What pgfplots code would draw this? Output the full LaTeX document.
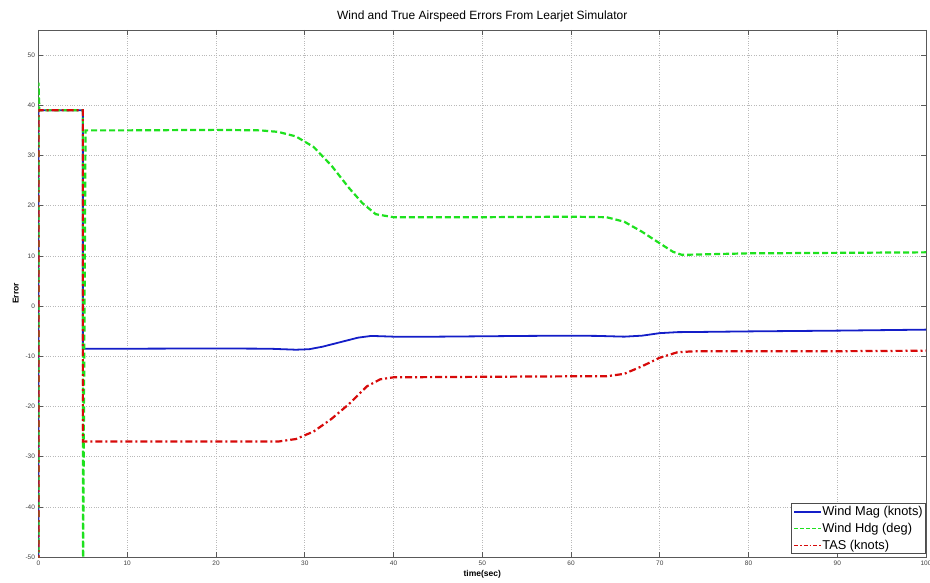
\documentclass[border=0pt]{standalone}
\usepackage{pgfplots}
\pgfplotsset{compat=1.18}
\usepackage{fontspec}
\setmainfont{Liberation Sans}
\definecolor{mblue}{RGB}{20,30,200}
\definecolor{mgreen}{RGB}{30,225,30}
\definecolor{mred}{RGB}{215,10,10}
\begin{document}
\begin{tikzpicture}
\begin{axis}[
  name=ax,
  scale only axis,
  width=887.5pt, height=527pt,
  xmin=0, xmax=100, ymin=-50, ymax=55,
  xtick={0,10,...,100}, ytick={-50,-40,...,50},
  tick align=inside, xtick pos=both, ytick pos=both,
  major tick length=5pt,
  tick style={gray!70!black, line width=0.6pt},
  grid=major,
  major grid style={dotted, gray!55, line width=0.6pt},
  axis line style={gray!70!black, line width=0.7pt},
  tick label style={font=\fontsize{6.5}{7.5}\selectfont, text=black!75},
  /pgf/number format/assume math mode=true,
  xticklabel style={yshift=-0.5pt},
  title={Wind and True Airspeed Errors From Learjet Simulator},
  title style={font=\fontsize{12}{14}\selectfont, yshift=-2pt},
  xlabel={\textbf{time(sec)}},
  ylabel={\textbf{Error}},
  xlabel style={font=\fontsize{8.5}{9}\selectfont, yshift=2pt},
  ylabel style={font=\fontsize{8.5}{9}\selectfont},
  legend style={at={(1,0)}, anchor=south east, xshift=0pt, yshift=3pt, font=\fontsize{12.8}{13}\selectfont, draw=gray!60!black, line width=0.6pt, inner sep=2.5pt, row sep=5pt, nodes={inner sep=0.5pt}},
  legend cell align=left,
  legend image code/.code={\draw[#1] (0pt,0pt) -- (27pt,0pt);},
]
\addlegendimage{color=mblue, line width=1.6pt}
\addlegendentry{Wind Mag (knots)}
\addlegendimage{color=mgreen, line width=1.5pt, dash pattern=on 4pt off 2pt}
\addlegendentry{Wind Hdg (deg)}
\addlegendimage{color=mred, line width=1.5pt, dash pattern=on 4pt off 2pt on 1.5pt off 2pt}
\addlegendentry{TAS (knots)}
\addplot[forget plot, color=mblue, line width=1.8pt] coordinates {
(0,-60)(0,39)(5,39)(5,-8.5)(10,-8.5)(20,-8.45)(26,-8.5)(29,-8.7)(30.5,-8.6)(32,-8.1)(34,-7.2)(36,-6.3)(37.5,-5.95)(40,-6.1)(45,-6.1)(55,-5.95)(60,-5.9)(63,-5.95)(66,-6.1)(68,-5.9)(70,-5.4)(72,-5.2)(75,-5.15)(80,-5.05)(90,-4.9)(100,-4.7)
};
\addplot[forget plot, color=mgreen, line width=2.2pt, dash pattern=on 6pt off 3pt] coordinates {
(0,-60)(0,44.5)(0.1,39)(5,39)(5,-60)(5.3,35)(10,35)(20,35.1)(25,35)(27,34.7)(29,33.8)(31,31.7)(33,28)(35,23.5)(36.5,20.5)(38,18.3)(40,17.7)(50,17.7)(60,17.8)(64,17.7)(66,16.8)(68,14.8)(70,12.5)(71.5,10.8)(72.5,10.2)(75,10.3)(80,10.5)(90,10.6)(100,10.7)
};
\addplot[forget plot, color=mred, line width=2.2pt, dash pattern=on 7pt off 3pt on 2pt off 3pt] coordinates {
(0,-60)(0,39)(5,39)(5,-27)(10,-27)(20,-27)(27,-27)(29,-26.5)(31,-25)(33,-22.5)(35,-19.5)(37,-16)(38.5,-14.6)(40,-14.2)(50,-14.1)(60,-14)(64,-14)(66,-13.5)(68,-12)(70,-10.3)(72,-9.2)(74,-9)(80,-9)(90,-9)(100,-8.9)
};
\end{axis}
\pgfresetboundingbox
\path[use as bounding box] ([xshift=-38.5pt,yshift=-25pt]ax.south west) rectangle ([xshift=4pt,yshift=30pt]ax.north east);
\end{tikzpicture}
\end{document}
